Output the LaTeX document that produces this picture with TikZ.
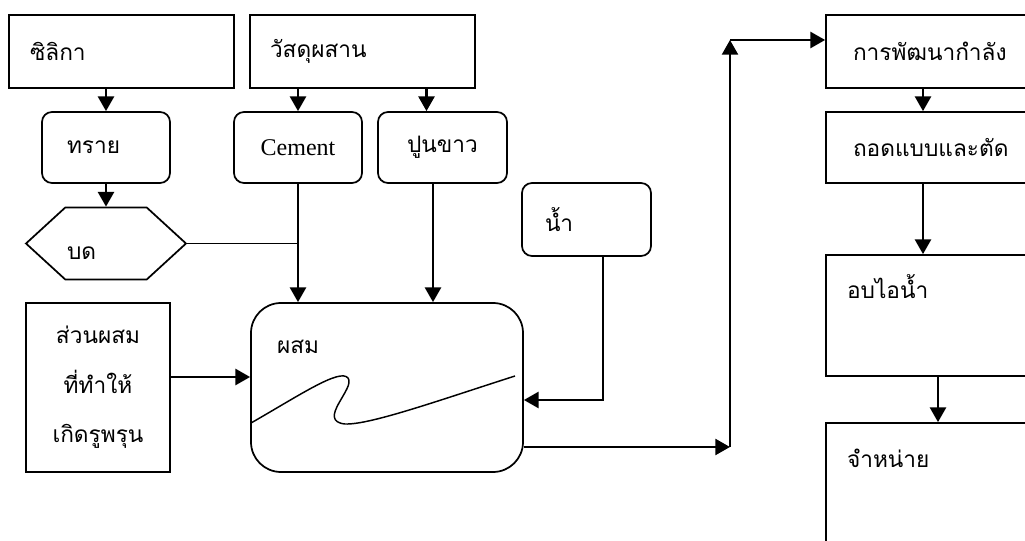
\documentclass[tikz,border=0pt]{standalone}
\usepackage{fontspec}
\setmainfont{Liberation Serif}
\newfontfamily\thaifont[Script=Thai]{Loma}
\usetikzlibrary{shapes,arrows.meta,positioning,calc}
\tikzstyle{Block} = [draw, rectangle, line width=1.3pt, inner sep=0pt, font=\thaifont\fontsize{17pt}{20pt}\selectfont]
\tikzstyle{Round} = [Block, rounded corners=7.5pt]
\tikzstyle{Hex}   = [Block, signal, signal to=west and east, signal pointer angle=85]
\tikzstyle{Line}  = [line width=1.7pt]

\begin{document}
\begin{tikzpicture}[x=0.75pt, y=-0.75pt, >={Triangle[length=11pt,width=12pt]}]
    \useasboundingbox (0,0) rectangle (1025,541);
    \clip (0,0) rectangle (1025,541);

    \node[Block, minimum width=168.75pt, minimum height=54.75pt, text width=137.25pt, align=left] (silica) at (121.5,51.5) {ซิลิกา};
    \node[Block, minimum width=168.75pt, minimum height=54.75pt, text width=138.75pt, align=left] (binder) at (362.5,51.5) {วัสดุผสาน};
    \node[Round, minimum width=96pt, minimum height=53.25pt, text width=58.5pt, align=left] (sand) at (106,147.5) {ทราย};
    \node[Round, minimum width=96pt, minimum height=53.25pt, font=\fontsize{18pt}{20pt}\selectfont] (cement) at (298,147.5) {Cement};
    \node[Round, minimum width=96.75pt, minimum height=53.25pt] (lime) at (442.5,147.5) {ปูนขาว};
    \node[Hex, minimum width=120pt, minimum height=54pt, text width=58.5pt, align=left, text height=24pt, text depth=0pt] (grind) at (106,243.5) {บด};
    \node[Round, minimum width=96.75pt, minimum height=54.75pt, text width=62.25pt, align=left] (water) at (586.5,219.5) {น้ำ};
    \node[Block, minimum width=108pt, minimum height=126.75pt, align=center, font=\thaifont\fontsize{17pt}{37pt}\selectfont] (additive) at (98,387.5) {ส่วนผสม\\ที่ทำให้\\เกิดรูพรุน};
    \node[Block, rounded corners=22.5pt, minimum width=204pt, minimum height=126.75pt, text width=165pt, align=left, text height=8pt, text depth=59pt] (mix) at (387,387.5) {ผสม};

    \node[Block, minimum width=168pt, minimum height=54.75pt, text width=127.5pt, align=left] (develop) at (938,51.5) {การพัฒนากำลัง};
    \node[Block, minimum width=168pt, minimum height=53.25pt, text width=127.5pt, align=left] (demould) at (938,147.5) {ถอดแบบและตัด};
    \node[Block, minimum width=168pt, minimum height=90.75pt, text width=136.5pt, align=left, text height=8pt, text depth=34pt] (steam) at (938,315.5) {อบไอน้ำ};
    \node[Block, minimum width=168pt, minimum height=102.75pt, text width=136.5pt, align=left, text height=8pt, text depth=44pt] (sale) at (938,491.5) {จำหน่าย};

    \coordinate (limein)  at ($(lime.north)+(-16,0)$);
    \coordinate (limeout) at ($(lime.south)+(-9.5,0)$);
    \coordinate (up)  at (730,447);
    \coordinate (top) at (730,40);

    \draw[->, Line] (sand.north |- silica.south) -- (sand.north);
    \draw[->, Line] (cement.north |- binder.south) -- (cement.north);
    \draw[->, Line] (limein |- binder.south) -- (limein);
    \draw[->, Line] (sand.south) -- (grind.north);
    \draw[line width=1.1pt] (grind.east) -- (grind.east -| cement.south);
    \draw[->, Line] (cement.south) -- (cement.south |- mix.north);
    \draw[->, Line] (limeout) -- (limeout |- mix.north);
    \draw[->, Line] ($(additive.east)+(0,-10.5)$) -- ($(mix.west)+(0,-10.5)$);
    \draw[->, Line] ($(water.south)+(16.5,0)$) |- ($(mix.east)+(0,12.5)$);
    \draw[->, Line] ($(mix.east)+(0,59.5)$) -- (up);
    \draw[->, Line] (up) -- (top);
    \draw[->, Line] (top) -- (top -| develop.west);
    \draw[->, Line] ($(develop.south)+(-15,0)$) -- ($(demould.north)+(-15,0)$);
    \draw[->, Line] ($(demould.south)+(-15,0)$) -- ($(steam.north)+(-15,0)$);
    \draw[->, Line] (steam.south) -- (sale.north);

    % the stirring line inside the mixer
    \draw[line width=1.1pt] (251,423) .. controls (300,395) and (340,368) .. (348,378)
        .. controls (356,388) and (316,421) .. (345,424)
        .. controls (370,425) and (440,400) .. (515,376);
\end{tikzpicture}
\end{document}
